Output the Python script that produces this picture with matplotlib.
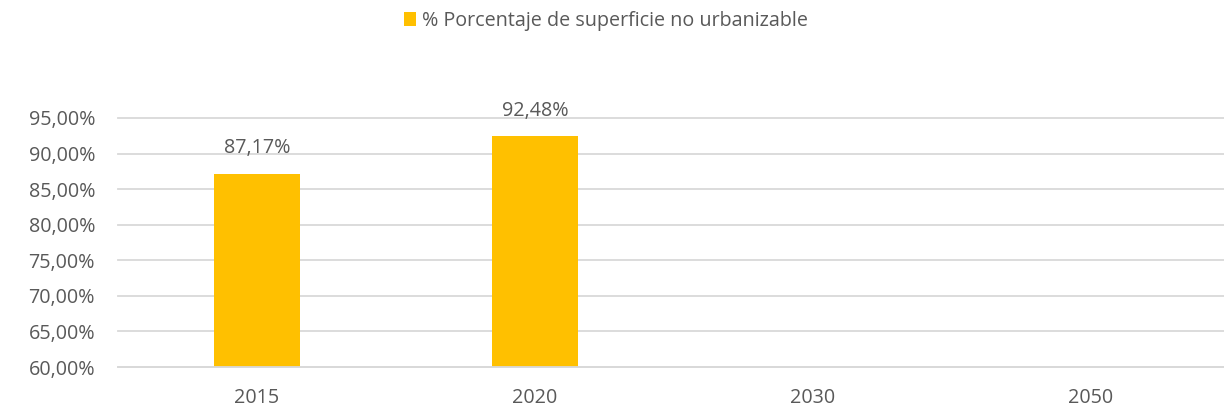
import matplotlib
matplotlib.use("Agg")
import matplotlib.pyplot as plt
from matplotlib.ticker import FuncFormatter
from matplotlib.patches import Patch

years = ["2015", "2020", "2030", "2050"]
no_urbanizable = [87.17, 92.48, None, None]
series_name = "% Porcentaje de superficie no urbanizable"
y_ticks = [60, 65, 70, 75, 80, 85, 90, 95]

BAR = "#FFC000"
TEXT = "#595959"
GRID = "#D9D9D9"
FS = 14.2

plt.rcParams["font.family"] = ["Open Sans", "DejaVu Sans"]

fig = plt.figure(figsize=(12.24, 4.11), dpi=100)
ax = fig.add_axes([118 / 1224, 1 - 367 / 411, (1224 - 118) / 1224, (367 - 118) / 411])

xs = list(range(len(years)))
for x, v in zip(xs, no_urbanizable):
    if v is None:
        continue
    ax.bar(x, v - 60, bottom=60, width=0.31, color=BAR, zorder=3)
    ax.annotate(f"{v:.2f}%".replace(".", ","), xy=(x, v), xytext=(0, 11),
                textcoords="offset points", ha="center", va="bottom",
                fontsize=FS, color=TEXT)

ax.set_ylim(60, 95)
ax.set_xlim(-0.5, -0.5 + 1106 / 278)
ax.set_yticks(y_ticks)
ax.yaxis.set_major_formatter(FuncFormatter(lambda v, _: f"{v:.2f}%".replace(".", ",")))
ax.set_xticks(xs)
ax.set_xticklabels(years)
ax.tick_params(axis="y", length=0, pad=16.5, labelsize=FS, labelcolor=TEXT)
ax.tick_params(axis="x", length=0, pad=15, labelsize=FS, labelcolor=TEXT)
ax.grid(axis="y", color=GRID, linewidth=1.3, zorder=0)
for line in ax.get_ygridlines():
    line.set_clip_on(False)
for s in ax.spines.values():
    s.set_visible(False)
ax.axhline(60, color=GRID, linewidth=1.3, zorder=4, clip_on=False)

fig.legend(handles=[Patch(facecolor=BAR, edgecolor="none")], labels=[series_name],
           loc="center", bbox_to_anchor=(606 / 1224, 1 - 21 / 411), frameon=False,
           fontsize=FS, labelcolor=TEXT, handlelength=0.65, handleheight=0.65,
           handletextpad=0.3)

fig.savefig("out.png", dpi=100, facecolor="white")
